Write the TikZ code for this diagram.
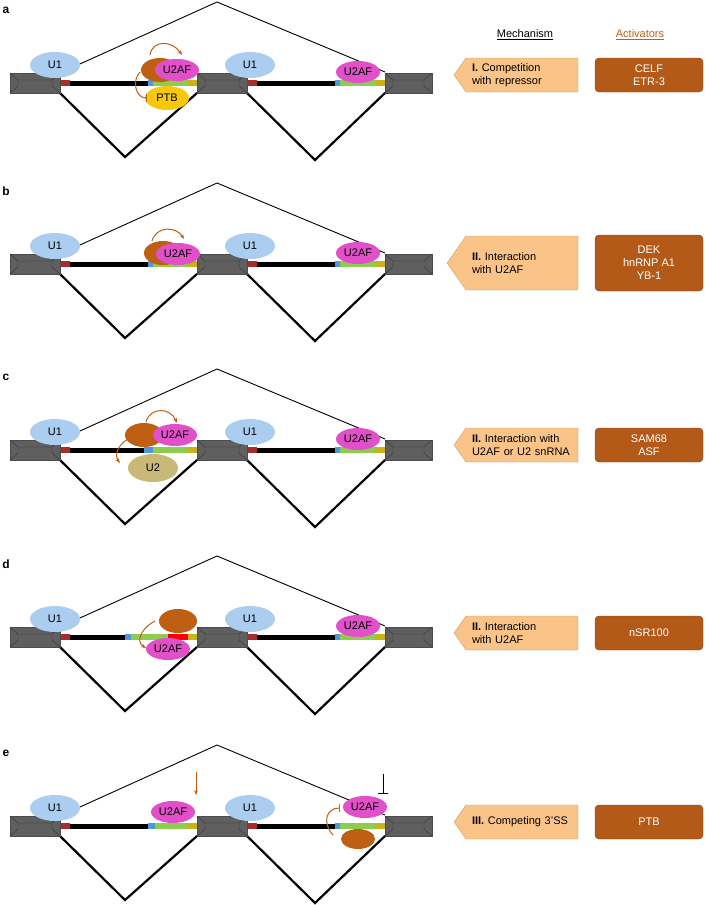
\documentclass[tikz,border=0pt]{standalone}
\usepackage{fontspec}
\setmainfont{Liberation Sans}
\usetikzlibrary{shapes.symbols,shapes.geometric,arrows.meta}
\definecolor{exongray}{RGB}{95,95,95}
\definecolor{ublue}{RGB}{170,205,240}
\definecolor{upink}{RGB}{225,80,200}
\definecolor{rbrown}{RGB}{190,95,20}
\definecolor{ptbyel}{RGB}{250,200,10}
\definecolor{utwo}{RGB}{200,185,120}
\definecolor{ssred}{RGB}{165,45,45}
\definecolor{ssblue}{RGB}{80,150,220}
\definecolor{ppgreen}{RGB}{140,205,80}
\definecolor{agyel}{RGB}{200,180,20}
\definecolor{mechfill}{RGB}{250,195,135}
\definecolor{actfill}{RGB}{180,90,25}
\tikzset{
  exon/.style={fill=exongray,draw=black!70},
  snrnp/.style={ellipse,fill=ublue,inner sep=0pt,minimum width=50pt,minimum height=26pt,font=\fontsize{11}{11}\selectfont},
  uaf/.style={ellipse,fill=upink,inner sep=0pt,minimum width=44pt,minimum height=22pt,font=\fontsize{11}{11}\selectfont},
  reg/.style={ellipse,fill=rbrown,inner sep=0pt,minimum width=38pt,minimum height=24pt},
  thin junction/.style={line width=0.9pt},
  thick junction/.style={line width=2.2pt},
  act arrow/.style={-{Stealth[length=5pt]},rbrown,line width=1pt},
  act block/.style={-{Bar[width=8pt]},rbrown,line width=1pt},
  mech/.style={signal,signal to=west,signal pointer angle=110,fill=mechfill,draw=mechfill!80!black,
    minimum height=34pt,text width=100pt,inner xsep=6pt,align=left,font=\fontsize{11}{13}\selectfont},
  activ/.style={rounded corners=4pt,fill=actfill,draw=actfill!70!black,text=white,
    minimum width=108pt,minimum height=34pt,align=center,font=\fontsize{11}{13}\selectfont},
  panel label/.style={font=\bfseries\fontsize{12}{12}\selectfont}
}
% one gene with three exons, two introns and the splice junctions
\newcommand{\genebase}{%
  \draw[thin junction] (60,73) -- (217,2) -- (385,72);
  \draw[thick junction] (60,93) -- (125,157) -- (197,93);
  \draw[thick junction] (247,93) -- (315,160) -- (385,93);
  \fill[black] (70,80.5) rectangle (148,85.5);
  \fill[black] (257,80.5) rectangle (335,85.5);
  \fill[ssred] (60,80) rectangle (70,86);
  \fill[ssred] (247,80) rectangle (257,86);
  \fill[ppgreen] (340,80) rectangle (375,86);
  \fill[ssblue] (335,80) rectangle (340,86);
  \fill[agyel] (375,80) rectangle (385,86);
  \foreach \xa/\xb in {10/60,197/247,385/432}{
    \draw[exon] (\xa,73) rectangle (\xb,93);
    \draw[black!80] (\xa,73) -- (\xa+8,80) -- (\xb-8,80) -- (\xb,73);
    \draw[black!80] (\xa+8,80) -- (\xa+8,86) -- (\xa,93);
    \draw[black!80] (\xb-8,80) -- (\xb-8,86) -- (\xb,93);
  }
  \node[snrnp] (u1a) at (55,65) {U1};
  \node[snrnp] (u1b) at (250,65) {U1};
}
\begin{document}
\begin{tikzpicture}[x=1pt,y=-1pt]
\useasboundingbox (0,0) rectangle (710,905);
% headings
\node[font=\fontsize{11}{11}\selectfont] (mechhead) at (525,35) {\underline{Mechanism}};
\node[font=\fontsize{11}{11}\selectfont,text=rbrown] (acthead) at (640,35) {\underline{Activators}};
% panel a
\begin{scope}
  \node[panel label] (la) at (6,10) {a};
  \genebase
  \fill[ssblue] (148,80) rectangle (153,86);
  \fill[ppgreen] (153,80) rectangle (187,86);
  \fill[agyel] (187,80) rectangle (197,86);
  \node[uaf] (ua) at (358,72) {U2AF};
  \node[reg] (ra) at (160,70) {};
  \node[uaf] (uaa) at (177,70) {U2AF};
  \node[ellipse,fill=ptbyel,inner sep=0pt,minimum width=44pt,minimum height=24pt,font=\fontsize{11}{11}\selectfont] (ptb) at (167,98) {PTB};
  \draw[act arrow] (150,55) .. controls (152,40) and (172,40) .. (182,55);
  \draw[act block] (140,72) .. controls (132,80) and (135,98) .. (147,98);
  \node[mech] (ma) at (522,75) {\textbf{I.} Competition\\with repressor};
  \node[activ] (aa) at (649,75) {CELF\\ETR-3};
\end{scope}
% panel b
\begin{scope}[shift={(0,181)}]
  \node[panel label] (lb) at (6,10) {b};
  \genebase
  \fill[ssblue] (148,80) rectangle (153,86);
  \fill[ppgreen] (153,80) rectangle (187,86);
  \fill[agyel] (187,80) rectangle (197,86);
  \node[uaf] (ub) at (358,72) {U2AF};
  \node[reg] (rb) at (163,72) {};
  \node[uaf] (ubb) at (178,73) {U2AF};
  \draw[act arrow] (152,60) .. controls (156,45) and (176,45) .. (184,58);
  \node[mech,minimum height=54pt] (mb) at (522,82) {\textbf{II.} Interaction\\with U2AF};
  \node[activ,minimum height=56pt] (ab) at (649,82) {DEK\\hnRNP A1\\YB-1};
\end{scope}
% panel c
\begin{scope}[shift={(0,367)}]
  \node[panel label] (lc) at (6,10) {c};
  \genebase
  \fill[ssblue] (144,80) rectangle (153,86);
  \fill[ppgreen] (153,80) rectangle (187,86);
  \fill[agyel] (187,80) rectangle (197,86);
  \node[uaf] (uc) at (358,72) {U2AF};
  \node[reg] (rc) at (144,68) {};
  \node[uaf] (ucc) at (175,68) {U2AF};
  \node[ellipse,fill=utwo,inner sep=0pt,minimum width=50pt,minimum height=28pt,font=\fontsize{11}{11}\selectfont] (u2) at (153,101) {U2};
  \draw[act arrow] (146,55) .. controls (150,40) and (170,40) .. (177,56);
  \draw[act arrow] (128,72) .. controls (118,78) and (114,88) .. (120,96);
  \node[mech] (mc) at (522,78) {\textbf{II.} Interaction with\\U2AF or U2 snRNA};
  \node[activ] (ac) at (649,78) {SAM68\\ASF};
\end{scope}
% panel d
\begin{scope}[shift={(0,554)}]
  \node[panel label] (ld) at (6,10) {d};
  \genebase
  \fill[black] (70,80.5) rectangle (125,85.5);
  \fill[white] (125,80) rectangle (148,86);
  \fill[ssblue] (125,80) rectangle (131,86);
  \fill[ppgreen] (131,80) rectangle (168,86);
  \fill[red] (168,80) rectangle (188,86);
  \fill[agyel] (188,80) rectangle (197,86);
  \node[uaf] (ud) at (358,72) {U2AF};
  \node[reg] (rd) at (178,67) {};
  \node[uaf] (udd) at (168,95) {U2AF};
  \draw[act arrow] (155,67) .. controls (140,75) and (136,88) .. (146,94);
  \node[mech] (md) at (522,79) {\textbf{II.} Interaction\\with U2AF};
  \node[activ] (ad) at (649,79) {nSR100};
\end{scope}
% panel e
\begin{scope}[shift={(0,743)}]
  \node[panel label] (le) at (6,10) {e};
  \genebase
  \fill[ssblue] (148,80) rectangle (155,86);
  \fill[ppgreen] (155,80) rectangle (188,86);
  \fill[agyel] (188,80) rectangle (197,86);
  \node[uaf] (ue) at (173,69) {U2AF};
  \node[reg,minimum width=34pt,minimum height=20pt] (re) at (358,96) {};
  \node[uaf] (uee) at (365,64) {U2AF};
  \coordinate (downtop) at (196,29);
  \coordinate (downend) at (196,52);
  \draw[act arrow] (downtop) -- (downend);
  \coordinate (blocktop) at (383,31);
  \coordinate (blockend) at (383,51);
  \draw[-{Bar[width=10pt]},line width=1pt] (blocktop) -- (blockend);
  \draw[act block] (333,92) .. controls (322,80) and (326,65) .. (340,65);
  \node[mech] (me) at (522,79) {\textbf{III.} Competing 3'SS};
  \node[activ] (ae) at (649,79) {PTB};
\end{scope}
\end{tikzpicture}
\end{document}
